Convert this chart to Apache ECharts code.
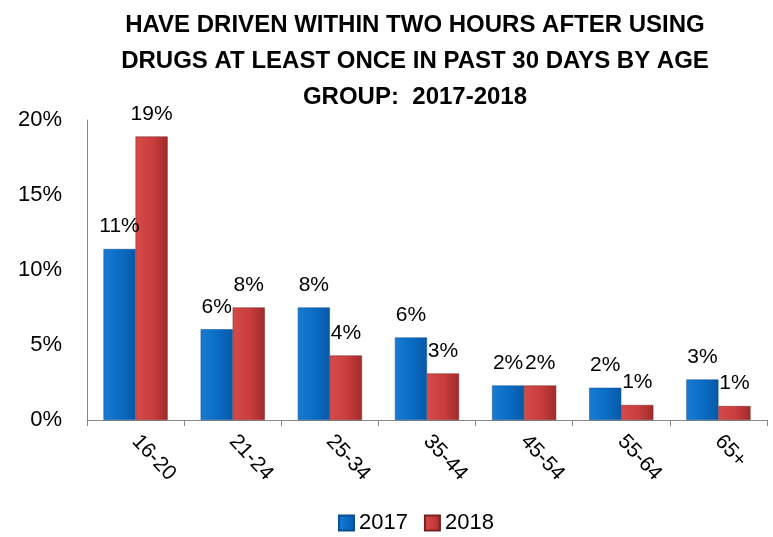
<!DOCTYPE html>
<html><head><meta charset="utf-8">
<script src="https://cdn.jsdelivr.net/npm/echarts@6/dist/echarts.min.js"></script>
<style>html,body{margin:0;padding:0;background:#fff}#c{width:773px;height:537px}</style>
</head><body><div id="c"></div>
<script>
const categories = ['16-20','21-24','25-34','35-44','45-54','55-64','65+'];
const seriesNames = ['2017','2018'];
const values2017 = [11.4, 6.05, 7.5, 5.5, 2.3, 2.15, 2.7];
const values2018 = [18.9, 7.5, 4.3, 3.1, 2.3, 1.0, 0.93];
const yTicks = [0, 5, 10, 15, 20];

const FONT = 'Liberation Sans';
function grad(c1, c2, c3){
  return new echarts.graphic.LinearGradient(0,0,1,0,[
    {offset:0,color:c1},{offset:0.5,color:c2},{offset:1,color:c3}]);
}
const blue = grad('#1a7ad0','#0a6ec6','#0858a6');
const red = grad('#d64a4a','#cc3e3e','#a02b2b');
const chart = echarts.init(document.getElementById('c'));
const lbl = {show:true, position:'top', distance:12, fontFamily:FONT, fontSize:21, color:'#000',
  formatter:p=>Math.round(p.value)+'%'};
chart.setOption({
  animation:false,
  title:{text:'HAVE DRIVEN WITHIN TWO HOURS AFTER USING\nDRUGS AT LEAST ONCE IN PAST 30 DAYS BY AGE\nGROUP:  2017-2018',
    left:410, top:2, textAlign:'center',
    textStyle:{fontFamily:FONT, fontWeight:'bold', fontSize:24, lineHeight:36, color:'#000'}},
  legend:{bottom:-2, left:333, icon:'rect', itemWidth:15, itemHeight:15, itemGap:16,
    textStyle:{fontFamily:FONT, fontSize:22, color:'#000'}, data:seriesNames},
  grid:{left:87, right:6, top:120, bottom:117},
  xAxis:{type:'category', data:categories,
    axisLine:{lineStyle:{color:'#888'}},
    axisTick:{show:true, length:6, lineStyle:{color:'#888'}},
    axisLabel:{rotate:-47, margin:18, fontFamily:FONT, fontSize:21, color:'#000'}},
  yAxis:{type:'value', min:yTicks[0], max:yTicks[yTicks.length-1], interval:5,
    splitLine:{show:false},
    axisLine:{show:true, lineStyle:{color:'#888'}},
    axisTick:{show:false},
    axisLabel:{margin:25, fontFamily:FONT, fontSize:22, color:'#000', formatter:v=>v+'%'}},
  series:[
    {name:seriesNames[0], type:'bar', data:values2017, barGap:'0%', barCategoryGap:'34%',
      itemStyle:{color:blue, borderColor:'#0a4f94', borderWidth:0.5}, label:lbl},
    {name:seriesNames[1], type:'bar', data:values2018,
      itemStyle:{color:red, borderColor:'#7a2020', borderWidth:0.5}, label:lbl}
  ]
});
</script></body></html>
